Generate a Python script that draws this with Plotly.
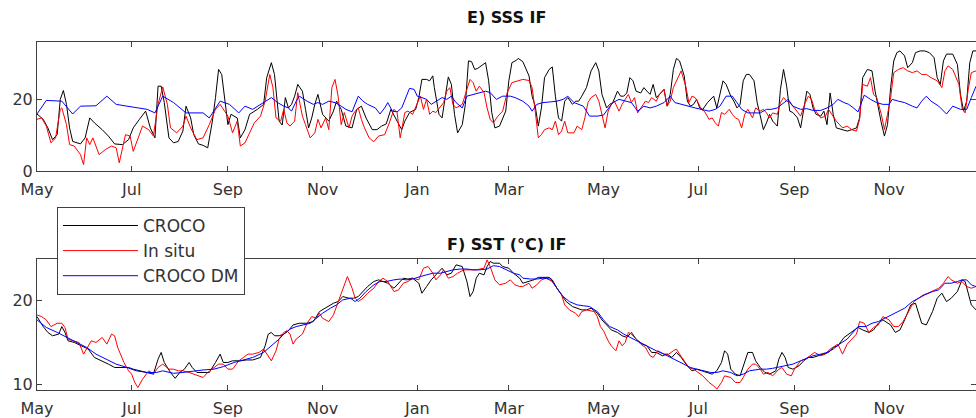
import pandas as pd
import plotly.graph_objects as go
from plotly.subplots import make_subplots

START = "2013-05-01"
END = "2014-12-27"

# ---------------- E) SSS ----------------
sss_croco_day = [0,4,7,10,13,15,17,19,21,23,28,31,34,37,42,46,50,55,59,62,66,70,73,76,78,80,82,85,88,91,94,96,99,101,104,107,110,113,115,117,119,121,123,125,129,131,134,137,142,146,148,151,153,
                 156,158,160,162,164,166,168,171,173,175,177,179,181,184,188,191,193,196,199,203,206,209,212,216,219,222,225,228,232,235,237,240,244,246,248,251,253,255,256,259,261,263,265,267,269,271,274,276,278,280,282,284,287,289,291,293,295,298,302,304,306,309,
                 310,313,317,319,321,323,325,327,330,332,334,336,338,340,342,345,347,349,351,354,357,360,362,364,367,369,371,374,376,378,380,382,384,386,389,391,393,395,397,399,402,404,406,408,410,412,414,417,419,421,423,425,427,429,432,434,436,438,440,442,444,447,449,451,453,455,457,459,462,464,466,
                 468,470,472,474,477,479,481,483,485,487,490,492,494,496,498,500,502,505,507,509,511,513,515,519,522,525,528,530,532,535,538,540,542,544,546,548,550,552,554,556,559,561,564,566,569,572,575,578,580,582,584,586,590,593,595,597,599,601,603,605]
sss_croco = [16.0,14.5,12.1,8.8,10.2,20.1,22.6,18.7,12.1,8.3,7.6,9.3,14.9,13.5,11.6,9.8,7.6,7.4,8.8,12.1,14.5,16.8,12.1,9.3,23.8,23.8,19.2,9.3,7.9,8.3,11.2,18.2,14.9,10.2,7.6,7.2,6.5,14.0,20.6,28.5,27.1,20.1,13.0,15.9,14.9,9.3,11.6,15.9,17.3,18.7,26.2,30.4,27.1,
             14.0,12.9,20.6,17.7,18.7,21.0,24.3,22.4,17.3,12.1,14.9,18.7,21.5,15.9,14.0,16.8,19.6,17.3,12.6,12.1,17.3,18.2,14.9,11.6,11.6,12.6,13.2,17.3,14.0,11.6,14.0,16.4,17.3,20.6,25.7,25.7,25.3,26.7,23.4,15.9,14.9,20.6,26.4,24.3,15.9,10.7,13.0,18.7,30.9,30.7,28.5,28.8,29.9,30.4,25.3,16.4,12.1,12.6,16.8,25.3,30.4,31.1,
             31.6,30.7,26.7,21.0,18.2,12.6,17.7,26.2,28.5,29.2,21.0,14.9,14.0,19.6,20.6,18.7,19.6,19.6,21.0,23.4,28.1,30.4,28.1,21.5,17.7,18.7,19.2,22.4,21.0,21.0,21.9,26.2,25.3,22.4,21.9,23.4,22.4,21.5,24.3,20.6,21.9,22.9,18.2,21.5,28.5,31.6,30.9,26.7,19.6,18.2,18.7,20.1,17.7,17.3,19.2,20.1,21.0,17.7,21.5,25.3,24.3,21.0,19.6,17.7,18.7,25.3,27.1,27.1,25.3,19.2,15.5,
             11.6,13.5,15.9,14.0,12.6,22.9,28.5,23.8,16.8,16.4,14.9,12.1,17.7,22.4,21.5,17.7,15.9,15.4,16.8,13.0,21.9,15.9,12.1,11.6,11.2,11.6,12.1,14.9,26.2,28.5,28.1,22.4,17.7,13.5,9.8,13.0,23.4,30.9,33.2,33.7,32.3,29.0,30.4,33.2,33.7,33.7,33.2,31.8,26.2,24.3,30.9,32.8,32.8,29.9,21.5,16.8,19.6,30.4,33.7,33.7]

sss_insitu_day = [0,3,6,9,12,15,16,19,21,24,28,30,32,34,36,40,44,48,51,53,57,60,62,65,68,72,75,78,81,84,86,90,94,96,99,103,107,111,115,118,120,123,126,129,131,134,137,140,144,147,150,152,
                  154,157,159,161,163,166,168,171,173,176,179,181,183,186,188,190,192,194,196,198,201,203,205,207,209,211,214,217,220,224,227,230,232,234,237,239,242,245,247,249,251,253,255,257,260,262,264,266,268,270,274,277,279,281,283,285,288,290,292,294,297,300,303,306,310,
                  313,317,319,321,323,325,327,330,332,334,336,338,340,342,346,348,351,353,355,357,360,362,364,366,368,370,372,375,377,379,381,383,385,387,390,392,394,396,399,401,404,406,408,410,413,415,418,420,422,424,426,428,430,433,435,437,439,441,443,446,448,450,452,454,456,458,461,463,466,
                  468,470,472,474,477,479,481,483,485,488,492,495,497,499,501,505,508,510,512,515,519,522,525,528,530,532,535,537,539,541,544,546,548,550,552,555,558,561,564,567,570,573,576,580,583,585,587,590,594,596,598,600,602,605]
sss_insitu = [14.5,14.9,12.6,7.9,9.3,17.3,17.7,13.0,7.4,7.0,4.6,1.8,9.3,7.4,9.3,4.6,6.0,7.0,6.5,2.3,10.2,9.8,5.5,9.3,12.6,11.6,9.8,18.7,23.6,18.7,12.1,10.7,12.6,15.4,12.1,8.8,9.3,13.0,17.3,18.7,17.3,15.4,10.7,14.0,7.0,7.9,10.7,13.5,15.4,19.6,27.1,23.4,
              14.9,14.0,17.3,13.5,12.6,14.0,22.0,15.4,13.0,9.3,10.7,14.5,12.1,14.9,11.6,23.4,25.7,21.0,13.0,16.4,12.1,15.4,16.8,17.7,14.5,12.1,9.3,8.2,9.8,10.2,13.5,17.3,16.4,9.3,16.4,16.8,15.9,19.2,21.0,17.3,20.1,15.9,16.8,16.4,18.2,19.2,22.4,23.4,18.7,17.7,18.7,22.9,25.7,24.8,22.4,23.8,22.0,17.7,14.5,13.5,15.4,16.8,22.0,24.8,25.4,
              25.7,25.4,23.4,16.8,9.3,10.2,11.6,12.1,11.6,14.0,10.2,11.2,14.0,10.7,10.7,12.6,11.6,14.9,19.2,20.6,21.5,19.6,15.9,12.1,16.8,18.7,19.6,16.8,18.7,20.1,21.5,19.2,20.6,16.3,18.2,19.6,19.2,20.6,19.6,21.5,22.9,18.2,19.6,23.4,26.2,28.1,23.8,19.2,21.0,20.6,19.2,17.3,16.8,14.5,14.9,13.5,12.6,16.4,15.9,17.3,15.9,14.9,14.5,12.1,15.9,17.3,14.9,17.7,16.8,
              17.3,16.3,14.9,16.3,15.9,19.2,20.6,19.6,19.2,17.7,15.4,19.2,21.0,20.1,17.3,14.9,15.4,17.3,15.9,14.0,12.1,12.6,11.6,11.2,14.5,24.3,23.8,26.2,21.5,20.6,15.9,11.6,15.9,20.6,27.6,28.5,29.0,28.1,27.6,28.1,27.1,27.1,26.2,25.3,23.4,28.1,29.5,28.5,24.3,17.7,16.3,22.9,27.6,28.1]

sss_dm_day = [0,6,16,23,28,38,45,51,58,64,71,76,81,88,92,96,107,111,118,124,130,134,139,146,151,155,
              159,162,164,167,169,174,178,181,184,188,192,196,199,203,207,210,213,218,221,224,226,229,232,235,237,240,243,245,248,251,254,257,261,264,267,270,274,277,281,285,289,292,296,300,305,308,
              313,317,319,322,326,331,335,339,342,346,349,352,356,361,365,368,371,375,379,383,387,391,395,399,404,408,411,415,420,424,428,433,437,440,444,448,451,454,458,463,466,
              470,473,477,480,484,487,492,496,500,505,509,513,516,520,523,526,529,533,537,541,545,549,551,555,559,564,567,570,573,576,581,586,590,595,599,602,605]
sss_dm = [16.0,19.8,19.6,16.0,18.2,18.3,21.0,18.7,18.2,17.7,17.3,16.3,21.0,19.2,17.7,16.3,16.3,14.9,19.6,18.7,16.3,18.2,17.3,19.2,20.6,19.2,
          18.2,17.7,16.8,19.6,21.0,19.6,18.7,19.2,18.7,19.6,19.2,18.2,17.3,16.6,21.0,19.6,18.7,17.7,16.0,17.7,19.2,16.8,16.6,17.7,20.1,23.2,22.9,21.0,20.6,20.1,18.7,19.6,20.6,20.1,21.0,19.2,17.7,21.0,21.5,22.0,22.4,22.0,20.1,21.0,21.0,20.6,
          19.6,18.2,16.8,18.7,19.2,19.4,19.6,20.1,21.0,19.2,18.7,18.2,15.4,15.4,15.7,17.3,19.2,20.1,19.6,19.2,16.8,18.2,17.7,18.2,19.2,21.0,19.2,18.7,18.2,17.7,17.3,16.8,17.3,18.2,21.0,21.0,19.2,17.3,16.3,16.3,16.3,
          17.3,17.3,17.7,18.7,20.1,18.2,17.3,17.5,17.0,17.0,17.7,18.7,20.1,19.2,18.7,17.7,16.6,21.3,20.1,19.2,18.7,18.7,20.1,19.6,19.2,18.2,17.7,19.6,21.0,19.6,18.2,16.0,18.2,17.3,17.3,20.6,23.8]

# ---------------- F) SST ----------------
sst_croco_day = [0,4,7,10,14,16,18,20,24,29,33,37,42,46,50,55,59,62,66,71,75,78,80,82,86,89,92,95,98,100,103,107,111,115,118,120,123,126,131,135,139,144,147,149,151,153,156,
                 159,162,165,169,174,178,182,187,191,194,197,201,204,207,210,213,217,220,223,226,230,233,236,239,242,246,248,251,254,257,261,264,267,270,274,277,279,281,283,285,288,290,292,294,298,300,304,307,311,
                 313,317,320,323,326,330,332,335,338,341,345,348,351,354,357,361,364,367,370,374,377,380,383,386,390,393,396,399,403,406,409,412,415,419,422,425,428,432,435,438,441,443,445,447,450,453,456,458,461,463,466,
                 469,472,476,478,480,482,484,487,491,494,497,500,503,507,510,513,516,520,523,526,529,532,536,539,542,545,550,553,556,559,563,566,568,570,573,577,580,583,586,589,593,596,598,600,602,605]
sst_croco = [18.1,16.9,16.2,15.8,16.0,16.9,16.2,15.2,15.0,14.6,14.2,13.2,12.8,12.4,12.0,12.0,12.0,11.8,11.6,11.4,11.2,13.0,13.8,12.6,11.4,10.7,11.4,11.8,12.6,12.0,11.4,11.4,11.4,12.6,13.6,12.6,12.6,12.8,12.8,12.9,12.9,13.2,14.6,16.0,16.2,15.8,15.8,
             16.0,16.4,17.1,17.3,17.3,17.5,18.7,19.3,19.7,19.9,20.5,20.3,20.3,20.5,21.1,21.7,22.3,22.5,22.3,22.1,21.5,22.1,22.7,22.6,22.7,22.1,20.9,21.7,22.5,23.1,23.9,23.1,23.3,24.3,24.1,22.3,20.5,21.1,22.7,23.3,23.1,24.1,24.7,24.5,24.5,24.1,23.9,23.3,22.7,
             22.1,22.3,22.5,22.8,22.8,22.8,22.5,21.5,20.7,19.9,19.3,19.1,18.9,18.9,19.1,18.5,17.7,17.1,16.5,16.2,15.8,15.6,16.2,15.4,14.8,14.6,13.8,13.8,13.4,13.6,13.2,13.8,13.2,12.2,11.6,11.8,11.6,11.4,11.2,11.6,12.6,14.0,13.6,11.8,11.2,11.0,12.8,13.8,13.8,12.8,12.0,
             11.4,11.2,11.6,13.0,13.8,13.2,12.0,11.8,12.2,12.8,13.2,13.2,13.4,13.6,13.8,14.4,14.6,15.6,16.0,16.5,16.8,16.5,16.2,16.5,17.3,17.7,17.1,16.2,16.5,17.7,19.5,19.7,18.5,17.3,17.1,18.7,20.3,20.9,19.9,20.3,21.1,22.5,22.3,20.9,19.5,18.9]

sst_insitu_day = [0,3,6,9,13,16,18,20,23,27,30,32,35,38,42,45,48,50,52,56,59,61,63,65,68,72,75,78,81,85,88,91,94,98,101,104,107,110,114,117,120,123,126,130,133,136,139,143,146,148,151,154,156,
                  159,161,163,165,167,171,174,177,180,182,184,188,191,194,197,200,203,205,207,210,213,217,220,223,226,230,233,236,239,242,246,249,252,255,257,260,262,265,268,271,275,279,283,288,290,292,295,298,302,305,308,311,
                  313,317,319,322,325,328,332,335,338,340,343,347,349,351,354,359,361,363,365,368,370,373,375,377,379,381,383,386,389,392,395,397,400,404,407,410,412,414,417,420,423,426,429,433,436,438,441,443,447,450,453,455,458,461,463,466,
                  468,471,474,478,480,483,486,488,492,495,498,501,505,508,511,514,516,519,522,525,528,530,533,536,539,542,545,549,552,555,558,561,565,568,571,574,578,581,584,587,589,593,596,599,602,605]
sst_insitu = [18.3,18.1,17.7,16.9,17.3,17.3,16.8,15.4,15.2,15.0,13.6,14.2,15.2,15.0,15.6,14.8,16.0,15.8,14.4,12.6,11.6,11.2,10.2,9.6,10.6,11.6,11.2,12.0,12.4,11.8,11.8,11.6,11.6,11.4,11.2,11.0,10.8,11.4,12.0,12.4,12.4,11.8,11.8,12.8,13.2,13.6,13.6,13.8,14.2,13.6,12.8,14.0,15.4,
              16.2,16.4,16.0,14.8,15.4,16.0,17.3,18.1,17.9,18.5,17.9,17.5,18.3,19.9,21.5,22.9,21.5,20.3,19.9,20.3,20.9,21.5,22.3,22.7,22.3,21.1,21.3,22.1,22.3,22.7,22.5,23.9,24.1,23.3,22.5,23.1,23.7,22.7,22.9,23.3,23.7,23.7,23.7,23.9,24.9,24.1,22.5,21.9,22.1,22.5,21.9,21.7,
              21.7,22.1,21.5,21.9,22.5,22.7,22.3,21.5,20.7,19.5,18.9,18.5,18.1,18.7,18.9,18.7,18.1,16.9,16.4,15.2,14.6,14.0,15.2,14.6,15.0,16.2,16.0,15.4,14.8,14.4,13.4,13.2,14.0,13.6,13.6,14.0,14.2,13.6,12.8,12.0,11.8,11.4,11.0,10.2,9.8,9.4,10.2,11.0,10.8,10.2,10.2,10.8,11.8,12.4,12.4,11.8,
              11.2,11.4,11.0,11.8,12.0,11.2,11.0,11.8,12.8,13.0,13.4,13.8,13.4,13.6,14.2,14.6,14.8,13.6,14.8,15.4,16.0,17.5,17.3,16.2,16.8,17.1,18.1,17.7,16.9,16.9,17.5,18.5,19.9,20.3,20.7,20.9,21.3,21.5,22.1,22.9,22.5,22.1,22.3,21.7,21.5,21.7]

sst_dm_day = [0,6,13,19,26,32,38,45,51,58,64,71,77,81,88,94,101,107,114,120,127,133,139,146,151,156,
              159,163,167,172,176,180,184,189,193,197,202,205,208,212,217,221,225,230,234,238,242,247,251,255,260,264,268,273,277,281,285,290,294,298,303,307,311,
              313,318,322,326,331,335,339,343,348,352,356,361,365,369,374,378,382,386,391,395,399,404,408,412,417,421,425,429,434,438,442,447,451,455,459,466,
              470,474,479,483,487,492,496,500,505,509,513,517,522,526,529,534,538,542,546,551,555,559,564,568,572,577,581,585,589,593,596,599,602,605]
sst_dm = [17.7,16.8,16.2,15.6,15.0,14.4,13.6,13.0,12.4,12.0,11.6,11.4,11.4,11.6,11.3,11.4,11.6,11.7,11.8,12.1,12.6,12.9,13.2,13.8,14.6,15.4,
          16.0,16.6,16.9,17.1,17.3,17.9,18.5,19.1,19.5,20.1,20.3,19.9,20.3,21.1,21.9,22.3,22.3,22.5,22.6,22.5,22.6,22.9,23.1,23.3,23.3,23.5,23.7,23.8,23.8,23.7,23.7,23.8,24.2,24.1,23.7,23.3,23.1,
          22.7,22.6,22.6,22.7,22.6,21.5,20.5,19.9,19.5,19.4,19.3,18.7,17.7,16.9,16.5,16.0,15.6,15.2,14.8,14.4,14.0,13.6,13.2,12.8,12.4,12.0,11.8,11.6,11.4,11.4,11.6,11.4,11.0,11.2,11.6,11.8,
          11.8,11.9,12.1,12.2,12.4,12.8,13.1,13.4,13.6,13.8,14.2,14.8,15.4,16.2,16.9,16.9,17.3,17.5,17.9,18.3,18.7,19.1,19.9,20.3,20.7,21.1,21.3,22.1,22.1,22.3,22.5,22.5,21.9,21.7]

series_names = ["CROCO", "In situ", "CROCO DM"]
series_colors = ["#000000", "#ff0000", "#0000ff"]
panel_titles = ["E) SSS IF", "F) SST (°C) IF"]
sss_yticks = [0, 20]
sst_yticks = [10, 20]


def to_dates(days):
    return pd.Timestamp(START) + pd.to_timedelta(days, unit="D")


fig = make_subplots(rows=2, cols=1, vertical_spacing=0.0)

panels = [
    (1, [(sss_croco_day, sss_croco), (sss_insitu_day, sss_insitu), (sss_dm_day, sss_dm)]),
    (2, [(sst_croco_day, sst_croco), (sst_insitu_day, sst_insitu), (sst_dm_day, sst_dm)]),
]
for row, data in panels:
    for i, (d, v) in enumerate(data):
        fig.add_trace(go.Scatter(
            x=to_dates(d), y=v, mode="lines", name=series_names[i],
            line=dict(color=series_colors[i], width=1),
            showlegend=(row == 2), legendgroup=series_names[i],
        ), row=row, col=1)

FONT = "DejaVu Sans"
AX = "#404040"
TXT = "#333333"

axis_common = dict(showline=True, linecolor=AX, linewidth=1, mirror="ticks",
                   ticks="inside", ticklen=5, tickcolor=AX, tickwidth=1,
                   showgrid=False, zeroline=False,
                   tickfont=dict(family=FONT, size=16, color=TXT))

for r in (1, 2):
    fig.update_xaxes(type="date", range=[START, END], dtick="M2", tick0=START,
                     tickformat="%b", ticklabelstandoff=4, row=r, col=1, **axis_common)

fig.update_yaxes(range=[0, 36.2], tickvals=sss_yticks, row=1, col=1, **axis_common)
fig.update_yaxes(range=[9.3, 25.0], tickvals=sst_yticks, row=2, col=1, **axis_common)

fig.update_layout(
    xaxis=dict(domain=[0, 1]),
    yaxis=dict(domain=[0.6293, 1.0]),
    xaxis2=dict(domain=[0, 1]),
    yaxis2=dict(domain=[0.0, 0.3764]),
)

fig.add_annotation(text="<b>" + panel_titles[0] + "</b>", x=0.5, y=1.069, xref="paper", yref="paper",
                   showarrow=False, xanchor="center", yanchor="middle",
                   font=dict(family=FONT, size=16, color="#111111"))
fig.add_annotation(text="<b>" + panel_titles[1] + "</b>", x=0.5, y=0.4195, xref="paper", yref="paper",
                   showarrow=False, xanchor="center", yanchor="middle",
                   font=dict(family=FONT, size=16, color="#111111"))

fig.update_layout(
    width=976, height=418,
    margin=dict(l=37, r=0, t=42, b=28),
    paper_bgcolor="white", plot_bgcolor="white",
    legend=dict(x=0.0213, y=0.526, xanchor="left", yanchor="top",
                bgcolor="white", bordercolor=AX, borderwidth=1,
                font=dict(family=FONT, size=17, color=TXT),
                tracegroupgap=0, itemwidth=75),
)

fig.write_html("out.html")
